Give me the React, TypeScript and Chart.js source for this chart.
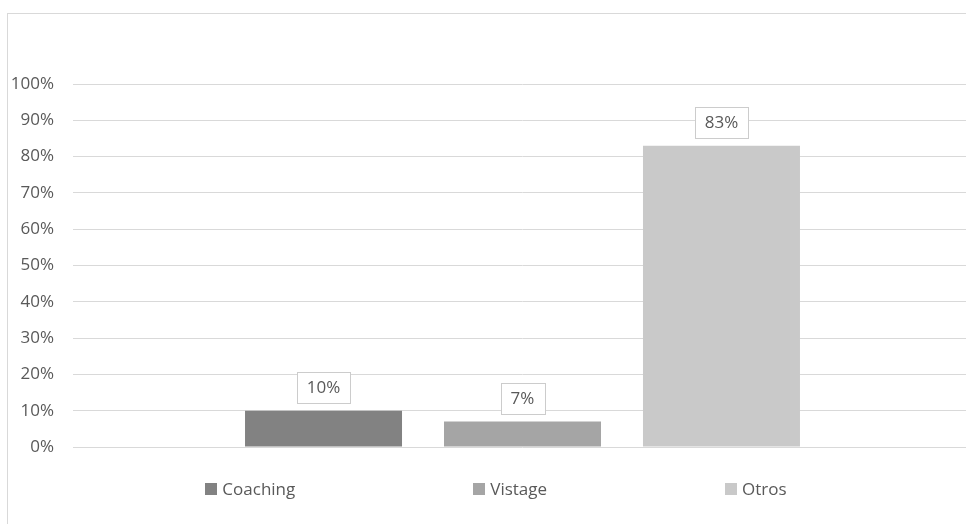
import React, { useEffect, useRef } from 'react';
import { Chart, registerables } from 'chart.js';

Chart.register(...registerables);

const categories = [''];
const seriesNames = ['Coaching', 'Vistage', 'Otros'];
const seriesValues = [10, 7, 83];
const seriesColors = ['#828282', '#a5a5a5', '#c9c9c9'];
const yTickLabels = ['0%', '10%', '20%', '30%', '40%', '50%', '60%', '70%', '80%', '90%', '100%'];

const FONT_FAMILY = '"Open Sans", sans-serif';
const FONT_SIZE = 17;
const TEXT_COLOR = '#595959';
const GRID_COLOR = '#d9d9d9';

const dataLabelPlugin = {
  id: 'boxedDataLabels',
  afterDatasetsDraw(chart: any) {
    const ctx = chart.ctx;
    ctx.save();
    ctx.font = `${FONT_SIZE}px ${FONT_FAMILY}`;
    ctx.textAlign = 'center';
    ctx.textBaseline = 'middle';
    chart.data.datasets.forEach((ds: any, di: number) => {
      const meta = chart.getDatasetMeta(di);
      meta.data.forEach((el: any, i: number) => {
        const text = `${ds.data[i]}%`;
        const tw = ctx.measureText(text).width;
        const w = Math.round(tw + 20);
        const h = 31;
        const x0 = Math.round(el.x - w / 2);
        const y1 = Math.round(el.y - 8);
        const y0 = y1 - h;
        ctx.fillStyle = '#ffffff';
        ctx.fillRect(x0, y0, w, h);
        ctx.strokeStyle = '#cccccc';
        ctx.lineWidth = 1;
        ctx.strokeRect(x0 + 0.5, y0 + 0.5, w, h);
        ctx.fillStyle = TEXT_COLOR;
        ctx.fillText(text, el.x, y0 + h / 2 + 1);
      });
    });
    ctx.restore();
  },
};

const legendPlugin = {
  id: 'bottomLegend',
  afterDraw(chart: any) {
    const ctx = chart.ctx;
    ctx.save();
    ctx.font = `${FONT_SIZE}px ${FONT_FAMILY}`;
    ctx.textBaseline = 'middle';
    ctx.textAlign = 'left';
    const box = 12;
    const boxGap = 5;
    const itemGap = 178;
    const items = chart.data.datasets.map((ds: any) => ({
      label: ds.label,
      color: ds.backgroundColor,
      w: box + boxGap + ctx.measureText(ds.label).width,
    }));
    const total = items.reduce((s: number, it: any) => s + it.w, 0) + itemGap * (items.length - 1);
    const centerX = chart.width / 2 + 10;
    const y = 489;
    let x = centerX - total / 2;
    items.forEach((it: any) => {
      ctx.fillStyle = it.color;
      ctx.fillRect(Math.round(x), y - box / 2, box, box);
      ctx.fillStyle = TEXT_COLOR;
      ctx.fillText(it.label, x + box + boxGap, y + 1);
      x += it.w + itemGap;
    });
    ctx.restore();
  },
};

export default function App() {
  const canvasRef = useRef<HTMLCanvasElement | null>(null);

  useEffect(() => {
    if (!canvasRef.current) return;
    const chart = new Chart(canvasRef.current, {
      type: 'bar',
      data: {
        labels: categories,
        datasets: seriesNames.map((name, i) => ({
          label: name,
          data: [seriesValues[i]],
          backgroundColor: seriesColors[i],
          borderWidth: 0,
          categoryPercentage: 0.664,
          barPercentage: 0.789,
        })),
      },
      options: {
        animation: false,
        responsive: false,
        devicePixelRatio: 1,
        layout: { padding: { left: 10, top: 84, right: 0, bottom: 77 } },
        plugins: {
          legend: { display: false },
          tooltip: { enabled: false },
        },
        scales: {
          x: { display: false },
          y: {
            min: 0,
            max: 100,
            afterFit: (s: any) => {
              s.width = 63;
            },
            ticks: {
              stepSize: 10,
              padding: 19,
              color: TEXT_COLOR,
              font: { family: FONT_FAMILY, size: FONT_SIZE },
              callback: (_v: any, i: number) => yTickLabels[i],
            },
            grid: { color: GRID_COLOR, lineWidth: 1, drawTicks: false },
            border: { display: false },
          },
        },
      },
      plugins: [dataLabelPlugin, legendPlugin],
    });
    return () => chart.destroy();
  }, []);

  return (
    <div
      style={{
        position: 'absolute',
        left: 0,
        top: 0,
        width: 966,
        height: 524,
        overflow: 'hidden',
        background: '#ffffff',
      }}
    >
      <canvas ref={canvasRef} width={972} height={524} style={{ display: 'block', position: 'absolute', left: 0, top: 0 }} />
      <div
        style={{
          position: 'absolute',
          left: 7,
          top: 13,
          width: 1000,
          height: 600,
          borderTop: '1px solid #d9d9d9',
          borderLeft: '1px solid #d9d9d9',
          pointerEvents: 'none',
        }}
      />
    </div>
  );
}
